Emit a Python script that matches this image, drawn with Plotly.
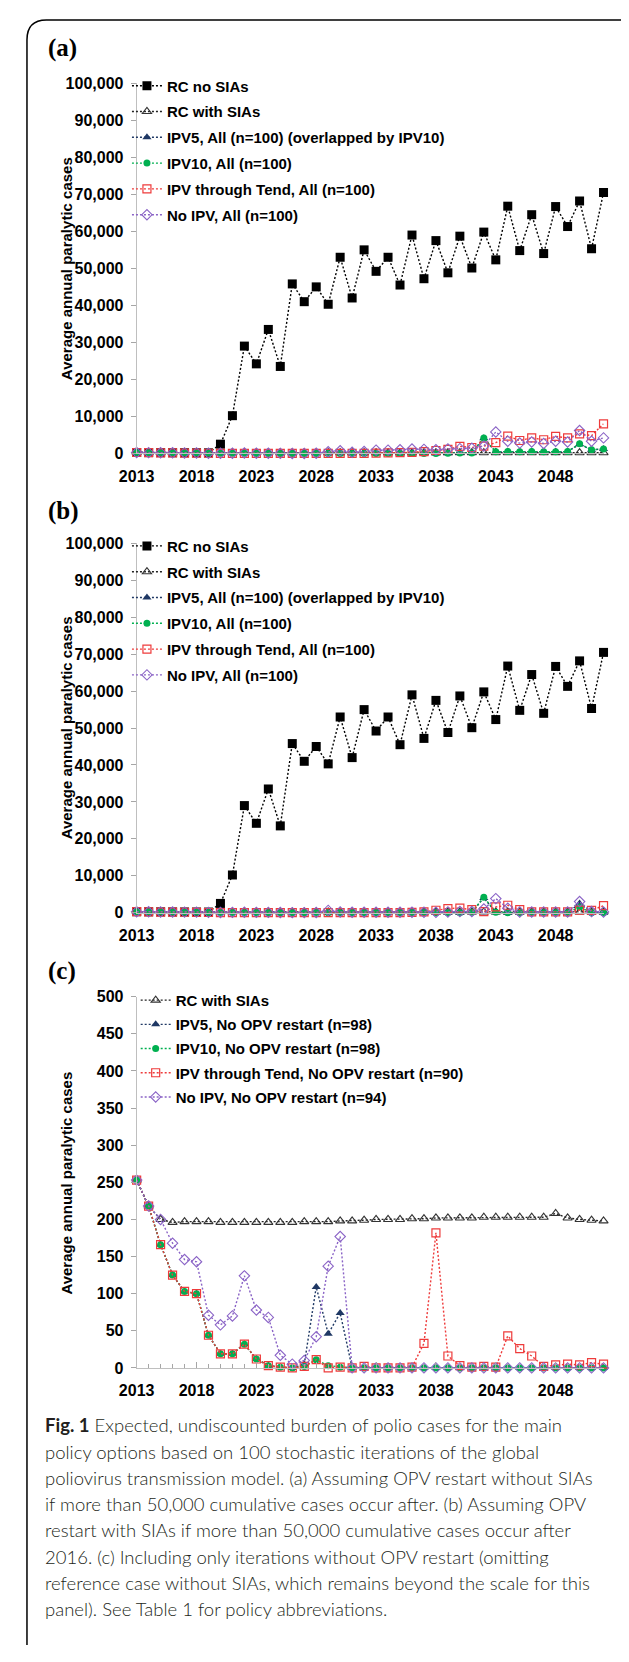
import plotly.graph_objects as go

# page is photographed at 629x1662; the html body has an 8px margin,
# so the figure is made 16px smaller and all page positions are shifted by 8px
PAGE_W, PAGE_H = 629, 1662
OFF = 8
FW, FH = PAGE_W - 2 * OFF, PAGE_H - 2 * OFF

years = list(range(2013, 2053))
xtick_labels = [2013, 2018, 2023, 2028, 2033, 2038, 2043, 2048]

# ---------------- panel (a) ----------------
rc_no_sias = [253, 230, 210, 190, 180, 170, 160, 2500, 10200, 29000, 24200, 33500, 23500,
              45800, 41000, 45000, 40300, 53000, 42000, 55000, 49200, 53000, 45500, 59000,
              47200, 57500, 48800, 58700, 50100, 59800, 52300, 66800, 54800, 64500, 54000,
              66700, 61300, 68200, 55300, 70500]
rc_sias = [253, 218, 200, 196, 197, 197, 197, 196, 196, 196, 196, 196, 196, 196, 197, 197,
           197, 198, 198, 199, 200, 200, 200, 201, 201, 202, 202, 202, 202, 203, 203, 203,
           203, 203, 203, 208, 202, 200, 199, 198]
ipv5_a = [253, 218, 166, 125, 103, 100, 44, 19, 19, 32, 12, 3, 1, 0, 2, 11, 3, 1, 0, 0,
          0, 0, 0, 0, 0, 0, 50, 100, 150, 4100, 450, 500, 450, 500, 450, 450, 500, 2500, 1000, 1200]
ipv10_a = [253, 218, 166, 125, 103, 100, 44, 19, 19, 32, 12, 3, 1, 0, 2, 11, 3, 1, 0, 0,
           0, 0, 0, 0, 0, 0, 50, 100, 150, 4200, 450, 500, 450, 500, 450, 450, 500, 2600, 1000, 1200]
ipvtend_a = [253, 218, 166, 125, 103, 100, 44, 19, 19, 32, 12, 3, 1, 0, 2, 11, 0, 1, 0, 2,
             100, 150, 200, 300, 500, 800, 1100, 1900, 1600, 1950, 2900, 4700, 3500, 4200, 3700,
             4600, 4200, 5300, 4800, 8000]
noipv_a = [253, 218, 200, 168, 146, 143, 71, 58, 70, 124, 78, 68, 17, 5, 10, 42, 450, 700, 300, 500,
           900, 900, 1000, 1200, 1100, 1000, 1200, 1300, 1400, 2000, 5800, 3300, 2800, 3100, 2700,
           3300, 3100, 6200, 3300, 4200]

# ---------------- panel (b) ----------------
ipv5_b = [253, 218, 166, 125, 103, 100, 44, 19, 19, 32, 12, 3, 1, 0, 2, 11, 3, 1, 0, 0,
          0, 0, 0, 0, 0, 0, 0, 0, 100, 4000, 100, 0, 0, 0, 0, 0, 0, 2500, 0, 0]
ipv10_b = [253, 218, 166, 125, 103, 100, 44, 19, 19, 32, 12, 3, 1, 0, 2, 11, 3, 1, 0, 0,
           0, 0, 0, 0, 0, 0, 0, 0, 100, 4200, 100, 0, 0, 0, 0, 0, 0, 1500, 0, 0]
ipvtend_b = [253, 218, 166, 125, 103, 100, 44, 19, 19, 32, 12, 3, 1, 0, 2, 11, 0, 1, 0, 2,
             0, 0, 0, 100, 200, 650, 1100, 1250, 800, 300, 1550, 2000, 800, 200, 200, 200, 200,
             700, 600, 1900]
noipv_b = [253, 218, 200, 168, 146, 143, 71, 58, 70, 124, 78, 68, 17, 5, 10, 42, 600, 200, 100, 100,
           100, 100, 100, 100, 100, 100, 200, 300, 300, 1000, 3800, 1200, 200, 200, 200, 200, 200,
           3000, 300, 200]

# ---------------- panel (c) ----------------
ipv5_c = [253, 218, 166, 125, 103, 100, 44, 19, 19, 32, 12, 3, 1, 0, 5, 109, 46, 74, 0, 0,
          0, 0, 0, 0, 0, 0, 0, 0, 0, 0, 0, 0, 0, 0, 0, 0, 0, 0, 0, 0]
ipv10_c = [253, 218, 166, 125, 103, 100, 44, 19, 19, 32, 12, 3, 1, 0, 2, 11, 3, 1, 0, 0,
           0, 0, 0, 0, 0, 0, 0, 0, 0, 0, 0, 0, 0, 0, 0, 0, 0, 0, 0, 0]
ipvtend_c = [253, 218, 166, 125, 103, 100, 44, 19, 19, 32, 12, 3, 1, 0, 2, 11, 0, 1, 0, 2,
             0, 0, 0, 1, 33, 182, 16, 3, 1, 2, 1, 43, 26, 16, 2, 4, 5, 4, 7, 5]
noipv_c = [253, 218, 200, 168, 146, 143, 71, 58, 70, 124, 78, 68, 17, 5, 10, 42, 137, 177, 0, 0,
           0, 0, 0, 0, 0, 0, 0, 0, 0, 0, 0, 0, 0, 0, 0, 0, 0, 0, 0, 0]

names_ab = ["RC no SIAs", "RC with SIAs", "IPV5, All (n=100) (overlapped by IPV10)",
            "IPV10, All (n=100)", "IPV through Tend, All (n=100)", "No IPV, All (n=100)"]
names_c = ["RC with SIAs", "IPV5, No OPV restart (n=98)", "IPV10, No OPV restart (n=98)",
           "IPV through Tend, No OPV restart (n=90)", "No IPV, No OPV restart (n=94)"]

caption_lines = [
    "<b>Fig. 1</b> Expected, undiscounted burden of polio cases for the main",
    "policy options based on 100 stochastic iterations of the global",
    "poliovirus transmission model. (a) Assuming OPV restart without SIAs",
    "if more than 50,000 cumulative cases occur after. (b) Assuming OPV",
    "restart with SIAs if more than 50,000 cumulative cases occur after",
    "2016. (c) Including only iterations without OPV restart (omitting",
    "reference case without SIAs, which remains beyond the scale for this",
    "panel). See Table 1 for policy abbreviations.",
]

# ---------------- styles ----------------
BLACK = "#000000"
NAVY = "#1f3864"
GREEN = "#00b050"
RED = "#ee3b3b"
PURPLE = "#8a63c6"
DASH = "2px,2px"
FONT = "Liberation Sans, Arial, sans-serif"


def px_x(p):
    return (p - OFF) / FW


def px_y(p):
    return 1 - (p - OFF) / FH


styles = {
    "rcno": dict(line=dict(color=BLACK, width=1.4, dash=DASH),
                 marker=dict(symbol="square", size=9, color=BLACK)),
    "rcsia": dict(line=dict(color="#222222", width=1.4, dash=DASH),
                  marker=dict(symbol="triangle-up-open", size=8, color="#333333",
                              line=dict(width=1.1))),
    "ipv5": dict(line=dict(color=NAVY, width=1.4, dash=DASH),
                 marker=dict(symbol="triangle-up", size=8, color=NAVY)),
    "ipv10": dict(line=dict(color=GREEN, width=1.4, dash=DASH),
                  marker=dict(symbol="circle", size=7, color=GREEN)),
    "tend": dict(line=dict(color=RED, width=1.4, dash=DASH),
                 marker=dict(symbol="square-open", size=8, color=RED, line=dict(width=1.2))),
    "noipv": dict(line=dict(color=PURPLE, width=1.4, dash=DASH),
                  marker=dict(symbol="diamond-open", size=8, color=PURPLE, line=dict(width=1.1))),
}

fig = go.Figure()


def add(y, name, key, xa, ya, leg, group):
    st = styles[key]
    fig.add_trace(go.Scatter(
        x=years, y=y, name=name, mode="lines+markers",
        line=st["line"], marker=st["marker"], xaxis=xa, yaxis=ya,
        legend=leg, legendgroup=group, cliponaxis=False,
    ))


series_a = [rc_no_sias, rc_sias, ipv5_a, ipv10_a, ipvtend_a, noipv_a]
series_b = [rc_no_sias, rc_sias, ipv5_b, ipv10_b, ipvtend_b, noipv_b]
keys_ab = ["rcno", "rcsia", "ipv5", "ipv10", "tend", "noipv"]
for i, (s, n, k) in enumerate(zip(series_a, names_ab, keys_ab)):
    add(s, n, k, "x", "y", "legend", "a%d" % i)
for i, (s, n, k) in enumerate(zip(series_b, names_ab, keys_ab)):
    add(s, n, k, "x2", "y2", "legend2", "b%d" % i)
series_c = [rc_sias, ipv5_c, ipv10_c, ipvtend_c, noipv_c]
keys_c = ["rcsia", "ipv5", "ipv10", "tend", "noipv"]
for i, (s, n, k) in enumerate(zip(series_c, names_c, keys_c)):
    add(s, n, k, "x3", "y3", "legend3", "c%d" % i)

# ---------------- axes ----------------
xdom = [px_x(122), px_x(603)]
tickfont = dict(family=FONT, size=16, color=BLACK, weight="bold")


def xaxis(anchor, inside_ticks=False):
    d = dict(domain=xdom, range=[2013, 2052], anchor=anchor, showgrid=False,
             zeroline=False, showline=True, linecolor="#bfbfbf", linewidth=1,
             tickmode="array", tickvals=xtick_labels, ticktext=[str(v) for v in xtick_labels],
             tickfont=tickfont, ticks="", ticklabelstandoff=8)
    if inside_ticks:
        d.update(ticks="inside", ticklen=6, tickcolor="#a6a6a6", tickwidth=1,
                 minor=dict(ticks="inside", ticklen=4, tickcolor="#a6a6a6", dtick=1, tick0=2013))
    return d


def yaxis(anchor, dom, rng, dtick):
    return dict(domain=dom, range=rng, anchor=anchor, showgrid=False, zeroline=False,
                showline=True, linecolor="#bfbfbf", linewidth=1, ticks="outside",
                ticklen=5, tickcolor="#a6a6a6", dtick=dtick, tick0=0, tickformat=",d",
                tickfont=tickfont, ticklabelstandoff=4)


legfont = dict(family=FONT, size=15, color=BLACK, weight="bold")


def legend(xp, ytop, gap):
    return dict(x=px_x(xp), y=px_y(ytop), xanchor="left", yanchor="top",
                bgcolor="rgba(0,0,0,0)", font=legfont, traceorder="grouped",
                tracegroupgap=gap, itemclick=False, itemdoubleclick=False)


annotations = []
for lab, yy in [("(a)", 40), ("(b)", 508), ("(c)", 973)]:
    annotations.append(dict(text="<b>%s</b>" % lab, x=px_x(29), y=px_y(yy), xref="paper",
                            yref="paper", xanchor="left", yanchor="middle", showarrow=False,
                            font=dict(family="Liberation Serif, Times New Roman, serif",
                                      size=25, color=BLACK)))
for yy in [263, 727, 1187]:
    annotations.append(dict(text="<b>Average annual paralytic cases</b>", x=px_x(50),
                            y=px_y(yy), xref="paper", yref="paper", xanchor="center",
                            yanchor="middle", textangle=-90, showarrow=False,
                            font=dict(family=FONT, size=15, color=BLACK)))
for i, line in enumerate(caption_lines):
    annotations.append(dict(text=line, x=px_x(25), y=px_y(1432 + i * 26.57), xref="paper",
                            yref="paper", xanchor="left", yanchor="middle", showarrow=False,
                            font=dict(family="Lato, Noto Sans, sans-serif", size=18.5,
                                      color="#231f20", weight=300)))

r = 20
x0, ytop = px_x(9), px_y(12)
border = ("M %f,%f L %f,%f Q %f,%f %f,%f L %f,%f" % (
    x0, 0, x0, px_y(12 + r), x0, ytop, px_x(9 + r), ytop, 1, ytop))

fig.update_layout(
    width=FW, height=FH, autosize=False,
    margin=dict(l=0, r=0, t=0, b=0),
    paper_bgcolor="white", plot_bgcolor="white",
    showlegend=True,
    xaxis=xaxis("y"), xaxis2=xaxis("y2"), xaxis3=xaxis("y3", inside_ticks=True),
    yaxis=yaxis("x", [px_y(450), px_y(76)], [0, 100000], 10000),
    yaxis2=yaxis("x2", [px_y(914), px_y(541)], [0, 100000], 10000),
    yaxis3=yaxis("x3", [px_y(1374), px_y(999)], [0, 500], 50),
    legend=legend(112, 62, 3.3),
    legend2=legend(112, 527, 3.3),
    legend3=legend(121, 986, 1.7),
    annotations=annotations,
    shapes=[dict(type="path", path=border, xref="paper", yref="paper",
                 line=dict(color=BLACK, width=1.5))],
)

fig.write_html("out.html")
